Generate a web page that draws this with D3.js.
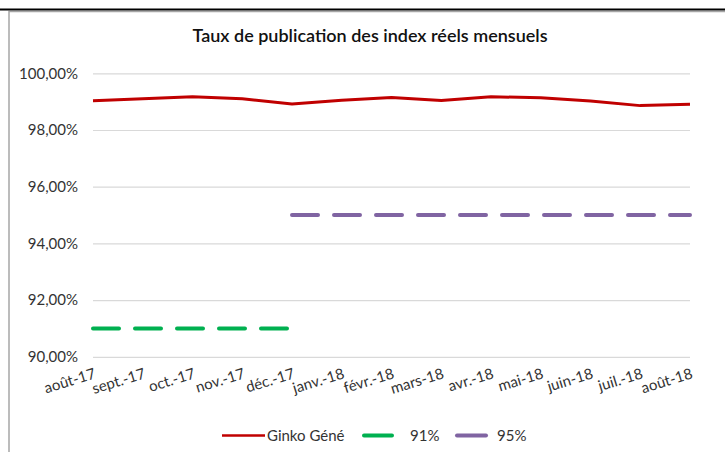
<!DOCTYPE html>
<html><head><meta charset="utf-8">
<script src="https://cdn.jsdelivr.net/npm/d3@7"></script>
<style>body{margin:0;background:#fff}svg{display:block}</style>
</head><body>
<svg id="c" width="725" height="452"></svg>
<script>
const months = ["août-17","sept.-17","oct.-17","nov.-17","déc.-17","janv.-18","févr.-18","mars-18","avr.-18","mai-18","juin-18","juil.-18","août-18"];
const ginko = [99.03,99.10,99.17,99.10,98.92,99.05,99.15,99.04,99.17,99.14,99.02,98.86,98.91];
const target91 = [91,91,91,91,91,null,null,null,null,null,null,null,null];
const target95 = [null,null,null,null,95,95,95,95,95,95,95,95,95];
const yTicks = [90,92,94,96,98,100];
const seriesNames = ["Ginko Géné","91%","95%"];
const colors = ["#C00000","#00B050","#8064A2"];

const FONT = "Lato, 'Open Sans', sans-serif";
const svg = d3.select("#c");
// frame
svg.append("rect").attr("x",9).attr("y",11.5).attr("width",730).attr("height",460)
  .attr("fill","#fff").attr("stroke","#a6a6a6").attr("stroke-width",1.5);
svg.append("line").attr("x1",0).attr("x2",725).attr("y1",9.5).attr("y2",9.5)
  .attr("stroke","#000").attr("stroke-width",2);

const x = d3.scalePoint().domain(months).range([93,690]);
const y = d3.scaleLinear().domain([90,100]).range([356.8,73.3]);

// title
svg.append("text").attr("x",370).attr("y",42).attr("text-anchor","middle")
  .attr("font-family",FONT).attr("font-weight",600).attr("font-size",18).attr("fill","#111")
  .text("Taux de publication des index réels mensuels");

// grid
const yAxis = d3.axisLeft(y).tickValues(yTicks).tickSize(-(690-93)).tickPadding(15)
  .tickFormat(d => d3.format(".2f")(d).replace(".",",") + "%");
const gy = svg.append("g").attr("transform","translate(93,0)").call(yAxis);
gy.select(".domain").remove();
gy.selectAll(".tick line").attr("stroke","#d9d9d9").attr("stroke-width",1.2);
gy.selectAll(".tick text").attr("font-family",FONT).attr("font-size",15).attr("fill","#333");

// x axis labels
const xAxis = d3.axisBottom(x).tickSize(0).tickPadding(0);
const gx = svg.append("g").attr("transform","translate(0,357)").call(xAxis);
gx.select(".domain").remove();
gx.selectAll(".tick text").attr("font-family",FONT).attr("font-size",15).attr("fill","#333")
  .attr("text-anchor","end").attr("dy",0).attr("y",0)
  .attr("transform","translate(3,21) rotate(-17)");

// lines
const line = d3.line().defined(d => d.v != null).x(d => x(d.m)).y(d => y(d.v));
const mk = arr => arr.map((v,i)=>({m:months[i], v}));
svg.append("path").datum(mk(target91)).attr("d",line).attr("fill","none")
  .attr("stroke",colors[1]).attr("stroke-width",4).attr("stroke-dasharray","26,16").attr("stroke-linecap","round");
svg.append("path").datum(mk(target95)).attr("d",line).attr("fill","none")
  .attr("stroke",colors[2]).attr("stroke-width",4).attr("stroke-dasharray","26,16").attr("stroke-linecap","round");
svg.append("path").datum(mk(ginko)).attr("d",line).attr("fill","none")
  .attr("stroke",colors[0]).attr("stroke-width",3).attr("stroke-linejoin","round");

// legend
const leg = [
  {name:seriesNames[0], c:colors[0], x1:222, x2:265, w:2.5, tx:267},
  {name:seriesNames[1], c:colors[1], x1:364, x2:392, w:4, tx:410},
  {name:seriesNames[2], c:colors[2], x1:457, x2:486, w:4, tx:497}
];
const lg = svg.append("g");
leg.forEach(l => {
  lg.append("line").attr("x1",l.x1).attr("x2",l.x2).attr("y1",435.5).attr("y2",435.5)
    .attr("stroke",l.c).attr("stroke-width",l.w).attr("stroke-linecap", l.w>3?"round":"butt");
  lg.append("text").attr("x",l.tx).attr("y",441).attr("font-family",FONT).attr("font-size",15)
    .attr("fill","#333").text(l.name);
});
</script>
</body></html>
